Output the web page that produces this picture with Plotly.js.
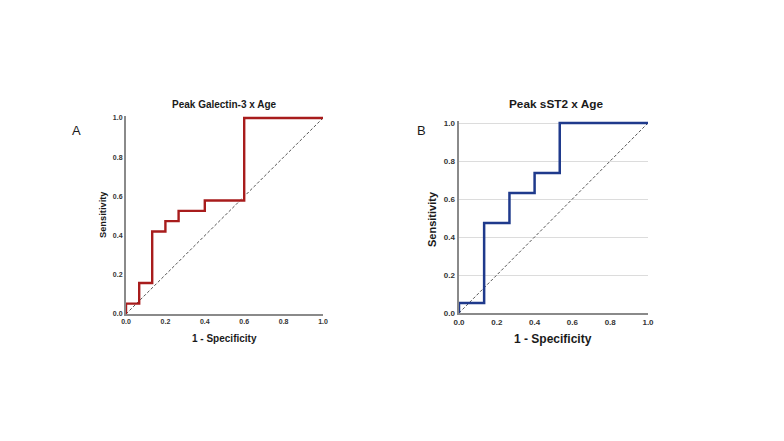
<!DOCTYPE html>
<html><head><meta charset="utf-8">
<script src="https://cdn.plot.ly/plotly-3.0.1.min.js"></script>
<style>body{margin:0;background:#fff}#c{width:784px;height:441px}</style>
</head><body><div id="c"></div>
<script>
// Panel A: Peak Galectin-3 x Age ROC (step points)
const fprA = [0, 0, 0.067, 0.067, 0.133, 0.133, 0.2, 0.2, 0.267, 0.267, 0.4, 0.4, 0.6, 0.6, 1.0];
const tprA = [0, 0.053, 0.053, 0.158, 0.158, 0.421, 0.421, 0.474, 0.474, 0.526, 0.526, 0.579, 0.579, 1.0, 1.0];
// Panel B: Peak sST2 x Age ROC
const fprB = [0, 0, 0.133, 0.133, 0.267, 0.267, 0.4, 0.4, 0.533, 0.533, 1.0];
const tprB = [0, 0.053, 0.053, 0.474, 0.474, 0.632, 0.632, 0.737, 0.737, 1.0, 1.0];
const diag = [0, 1];
const tickVals = [0, 0.2, 0.4, 0.6, 0.8, 1.0];
const tickText = ["0.0", "0.2", "0.4", "0.6", "0.8", "1.0"];
const titleA = "Peak Galectin-3 x Age";
const titleB = "Peak sST2 x Age";
const xTitle = "1 - Specificity";
const yTitle = "Sensitivity";

const W = 784, H = 441;
function dx(a, b) { return [a / W, b / W]; }
function dy(top, bottom) { return [1 - bottom / H, 1 - top / H]; }
const ext = 0.012;
const hA = 314 - 118;
const hB = 313 - 123;
const F = "Liberation Sans, Arial, sans-serif";

const traces = [
  {x: diag, y: diag, xaxis: 'x', yaxis: 'y', mode: 'lines', line: {color: '#555', width: 1, dash: '3px,2px'}, hoverinfo: 'skip'},
  {x: fprA, y: tprA, xaxis: 'x', yaxis: 'y', mode: 'lines', line: {color: '#a81c1c', width: 2.4}},
  {x: diag, y: diag, xaxis: 'x2', yaxis: 'y2', mode: 'lines', line: {color: '#555', width: 1, dash: '3px,2px'}, hoverinfo: 'skip'},
  {x: fprB, y: tprB, xaxis: 'x2', yaxis: 'y2', mode: 'lines', line: {color: '#1f3a8c', width: 2.5}}
];

function axis(extra) {
  return Object.assign({
    tickvals: tickVals, ticktext: tickText, showgrid: false, zeroline: false,
    showline: true, linecolor: '#8a8a8a', linewidth: 2, ticks: '',
    tickfont: {family: F, size: 7, color: '#333', weight: 'bold'}
  }, extra);
}
function ann(text, x, y, size, bold) {
  return {text: bold ? '<b>' + text + '</b>' : text, x: x / W, y: 1 - y / H, xref: 'paper', yref: 'paper',
    xanchor: 'center', yanchor: 'middle', showarrow: false, font: {family: F, size: size, color: '#1a1a1a'}};
}

const layout = {
  width: W, height: H, margin: {l: 0, r: 0, t: 0, b: 0},
  paper_bgcolor: '#fff', plot_bgcolor: '#fff', showlegend: false,
  xaxis: axis({domain: dx(126, 323), range: [0, 1], anchor: 'y'}),
  yaxis: axis({domain: dy(118 - ext * hA, 314), range: [0, 1 + ext], anchor: 'x'}),
  xaxis2: axis({domain: dx(459, 648), range: [0, 1], anchor: 'y2',
    tickfont: {family: F, size: 8, color: '#333', weight: 'bold'}}),
  yaxis2: axis({domain: dy(123 - ext * hB, 313), range: [0, 1 + ext], anchor: 'x2',
    linewidth: 2.5, showgrid: true, gridcolor: '#dcdcdc', gridwidth: 1,
    tickfont: {family: F, size: 8, color: '#333', weight: 'bold'}}),
  annotations: [
    ann(titleA, 224, 104, 10, true),
    ann(titleB, 556, 104, 11.8, true),
    ann(xTitle, 224, 338, 10, true),
    ann(xTitle, 553, 339, 12, true),
    Object.assign(ann(yTitle, 103, 215, 9.3, true), {textangle: -90}),
    Object.assign(ann(yTitle, 432, 219, 11, true), {textangle: -90}),
    ann('A', 76, 130, 13, false),
    ann('B', 421, 131, 13, false)
  ]
};
Plotly.newPlot('c', traces, layout, {staticPlot: true, displayModeBar: false});
</script></body></html>
